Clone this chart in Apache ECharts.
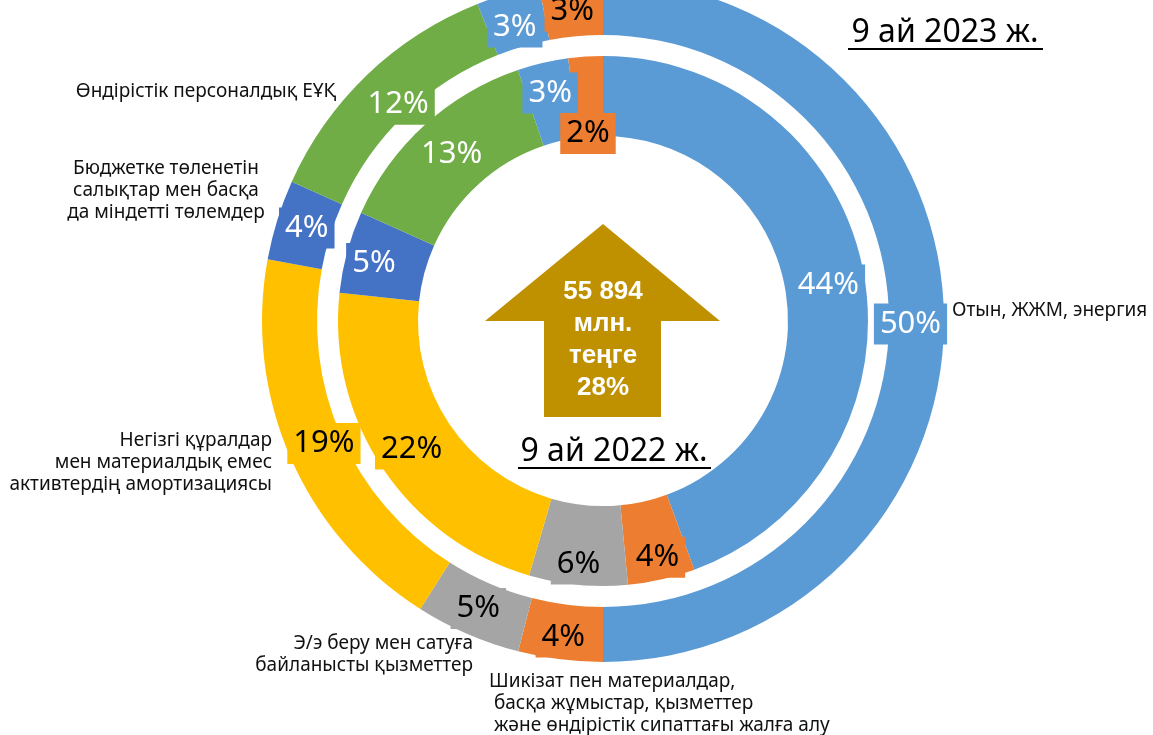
<!DOCTYPE html>
<html>
<head>
<meta charset="utf-8">
<script src="https://cdn.jsdelivr.net/npm/echarts@6/dist/echarts.min.js"></script>
<style>
html,body{margin:0;padding:0;background:#fff;}
#main{width:1153px;height:735px;}
</style>
</head>
<body>
<div id="main"></div>
<script>
// ---- data ----
const categories = [
  'Отын, ЖЖМ, энергия',
  'Шикізат пен материалдар,\n басқа жұмыстар, қызметтер\n және өндірістік сипаттағы жалға алу',
  'Э/э беру мен сатуға\nбайланысты қызметтер',
  'Негізгі құралдар\nмен материалдық емес\nактивтердің амортизациясы',
  'Бюджетке төленетін\nсалықтар мен басқа\nда міндетті төлемдер',
  'Өндірістік персоналдық ЕҰҚ',
  'Басқа',
  'Басқа шығындар'
];
const values2023 = [50.0, 4.0, 5.0, 18.9, 3.8, 12.3, 3.0, 3.0];
const values2022 = [44.4, 4.1, 6.0, 22.2, 5.0, 13.1, 3.1, 2.1];
const title2023 = '9 ай 2023 ж.';
const title2022 = '9 ай 2022 ж.';
const centerText = '55 894\nмлн.\nтеңге\n28%';

// ---- styles ----
const colors = ['#5B9BD5', '#ED7D31', '#A5A5A5', '#FFC000', '#4472C4', '#70AD47', '#5B9BD5', '#ED7D31'];
const labelColors = ['#fff', '#000', '#000', '#000', '#fff', '#fff', '#fff', '#000'];
const outerOffsets = [[-9, 3], [0, 2], [1, -3], [11, -4], [6, 1], [14, 12], [0, 10], [-1, 5]];
const innerOffsets = [[1, 4], [4, 14], [-3, 16], [-2, 1], [-9, 2], [2, 2], [-1, -6], [0, 40]];
const cx = 603, cy = 321;

function buildData(vals) {
  return vals.map((v, i) => ({
    name: categories[i],
    value: v,
    itemStyle: { color: colors[i] },
    label: { color: labelColors[i], backgroundColor: colors[i] }
  }));
}

const labelBase = {
  show: true,
  position: 'inside',
  formatter: p => Math.round(p.value) + '%',
  fontFamily: 'Noto Sans',
  fontSize: 31,
  lineHeight: 37,
  padding: [2, 6]
};

const chart = echarts.init(document.getElementById('main'), null, { renderer: 'canvas' });

const catFont = '19px "Noto Sans"';
function catText(idx, x, y, align) {
  return {
    type: 'text', x: x, y: y, silent: true,
    style: {
      text: categories[idx], font: catFont, fill: '#111', lineHeight: 22,
      align: align, textAlign: align, verticalAlign: 'top', textVerticalAlign: 'top'
    }
  };
}

const option = {
  animation: false,
  backgroundColor: '#fff',
  series: [
    {
      type: 'pie', name: '2022',
      center: [cx, cy], radius: [185, 265],
      startAngle: 90, clockwise: true,
      avoidLabelOverlap: false,
      label: labelBase, labelLine: { show: false },
      labelLayout: p => ({ dx: innerOffsets[p.dataIndex][0], dy: innerOffsets[p.dataIndex][1] }),
      emphasis: { disabled: true },
      data: buildData(values2022)
    },
    {
      type: 'pie', name: '2023',
      center: [cx, cy], radius: [286, 341],
      startAngle: 90, clockwise: true,
      avoidLabelOverlap: false,
      label: labelBase, labelLine: { show: false },
      labelLayout: p => ({ dx: outerOffsets[p.dataIndex][0], dy: outerOffsets[p.dataIndex][1] }),
      emphasis: { disabled: true },
      data: buildData(values2023)
    }
  ],
  graphic: [
    {
      type: 'polygon', silent: true,
      shape: { points: [[603, 224], [720, 321], [661, 321], [661, 417], [544, 417], [544, 321], [485, 321]] },
      style: { fill: '#BF9000' }
    },
    {
      type: 'text', x: 603, y: 340, silent: true,
      style: {
        text: centerText, font: 'bold 26px "Liberation Sans"', fill: '#fff', lineHeight: 32,
        align: 'center', textAlign: 'center', verticalAlign: 'middle', textVerticalAlign: 'middle'
      }
    },
    {
      type: 'text', x: 614, y: 452, silent: true,
      style: {
        text: title2022, font: '32px "Noto Sans"', fill: '#000',
        align: 'center', textAlign: 'center', verticalAlign: 'middle', textVerticalAlign: 'middle'
      }
    },
    { type: 'line', silent: true, shape: { x1: 518, y1: 468, x2: 711, y2: 468 }, style: { stroke: '#000', lineWidth: 2 } },
    {
      type: 'text', x: 945, y: 33, silent: true,
      style: {
        text: title2023, font: '32px "Noto Sans"', fill: '#000',
        align: 'center', textAlign: 'center', verticalAlign: 'middle', textVerticalAlign: 'middle'
      }
    },
    { type: 'line', silent: true, shape: { x1: 848, y1: 49, x2: 1043, y2: 49 }, style: { stroke: '#000', lineWidth: 2 } },
    catText(0, 952, 300, 'left'),
    catText(1, 489, 671, 'left'),
    catText(2, 473, 633, 'right'),
    catText(3, 272, 430, 'right'),
    catText(4, 166, 158, 'center'),
    catText(5, 206, 81, 'center')
  ]
};
chart.setOption(option);
</script>
</body>
</html>
